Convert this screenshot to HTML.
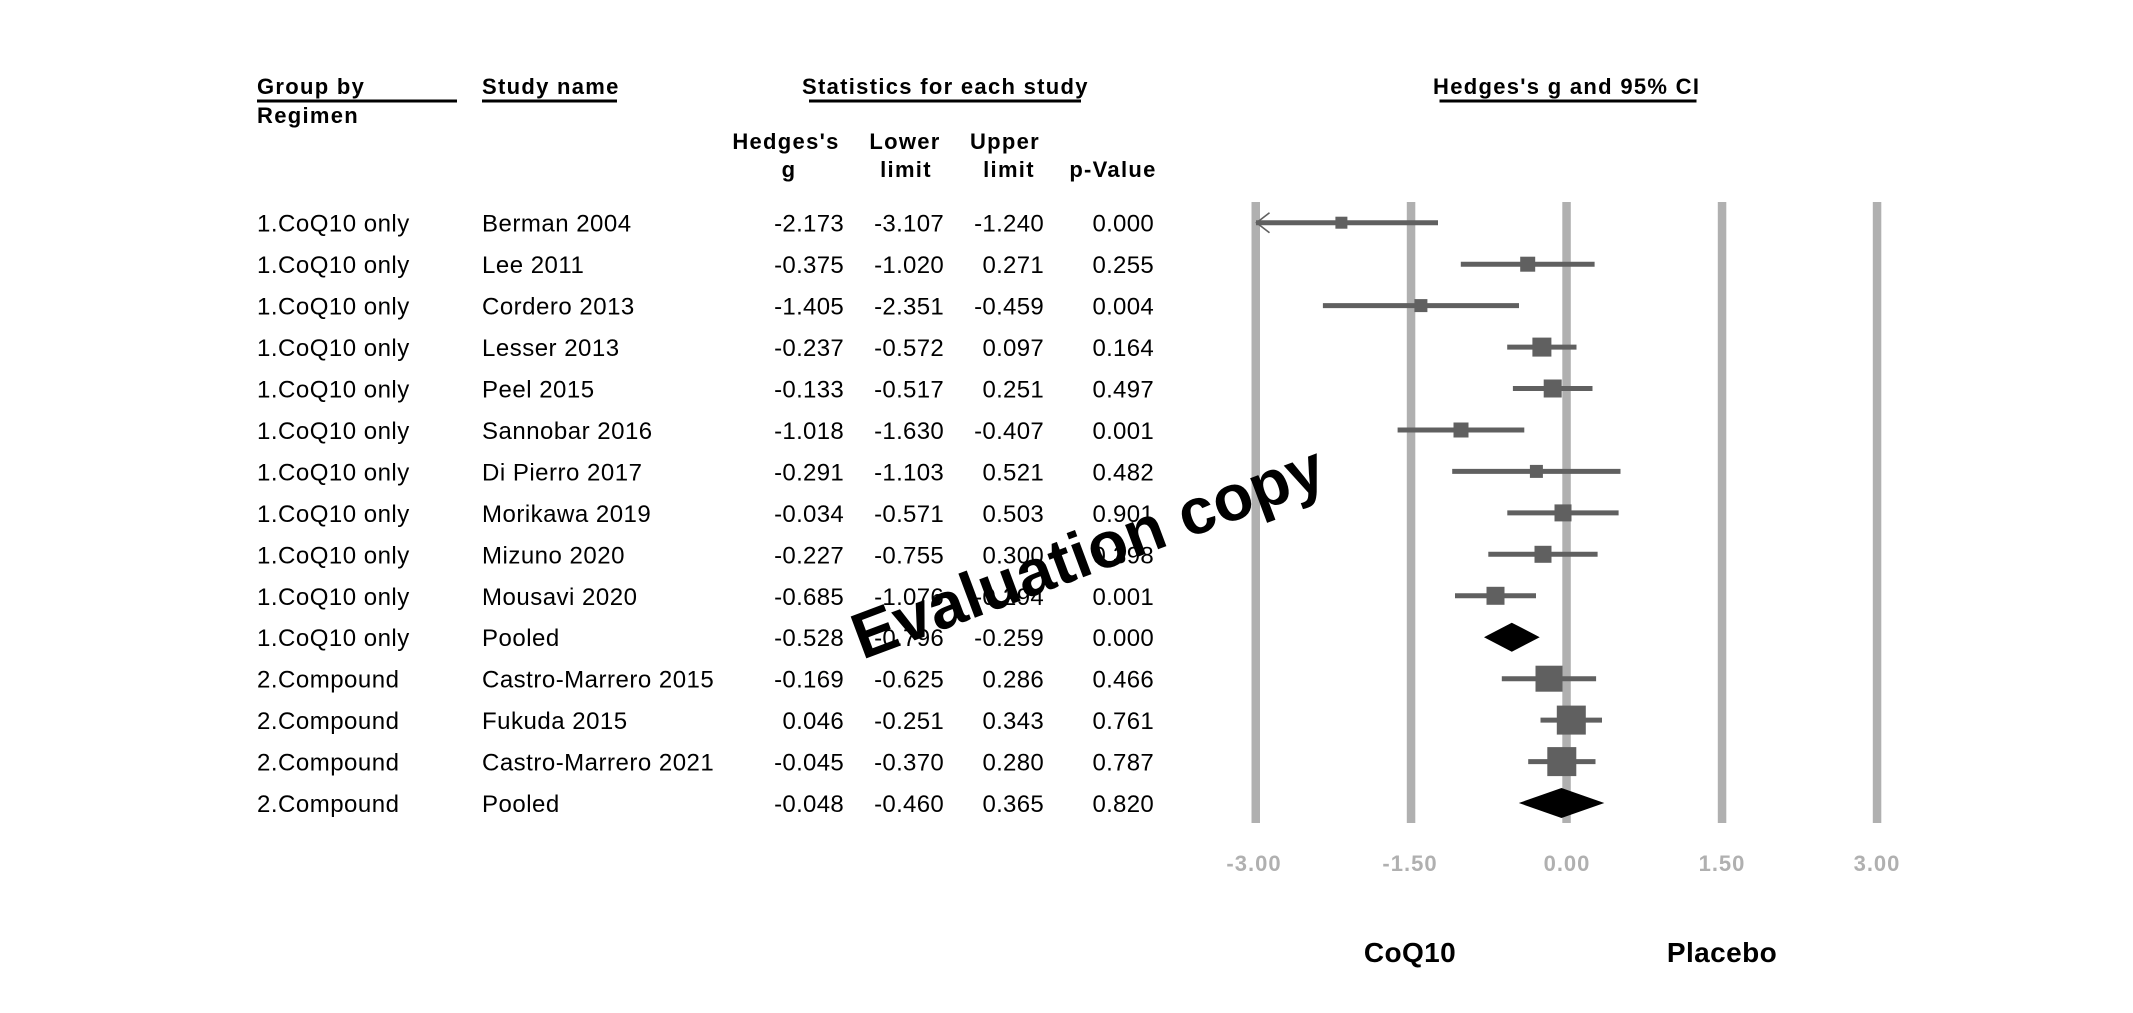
<!DOCTYPE html>
<html>
<head>
<meta charset="utf-8">
<style>
html,body{margin:0;padding:0;background:#fff;}
svg{display:block;}
.h{font-family:"Liberation Sans",Arial,sans-serif;font-weight:bold;font-size:22px;letter-spacing:1.3px;fill:#000;}
.t{font-family:"Liberation Sans",Arial,sans-serif;font-size:24px;letter-spacing:0.5px;fill:#000;}
.n{font-family:"Liberation Sans",Arial,sans-serif;font-size:24px;letter-spacing:0.3px;fill:#000;text-anchor:end;}
.tk{font-family:"Liberation Sans",Arial,sans-serif;font-weight:bold;font-size:22px;letter-spacing:1px;fill:#b0b0b0;text-anchor:middle;}
.lb{font-family:"Liberation Sans",Arial,sans-serif;font-weight:bold;font-size:28px;letter-spacing:0.4px;fill:#000;text-anchor:middle;}
.wm{font-family:"Liberation Sans",Arial,sans-serif;font-weight:bold;font-size:65px;fill:#000;text-anchor:middle;}
</style>
</head>
<body>
<svg width="2133" height="1013" viewBox="0 0 2133 1013" xmlns="http://www.w3.org/2000/svg">
<rect width="2133" height="1013" fill="#fff"/>

<!-- Headers -->
<text class="h" x="257" y="94">Group by</text>
<rect x="257" y="99.5" width="200" height="3" fill="#000"/>
<text class="h" x="257" y="123">Regimen</text>

<text class="h" x="482" y="94">Study name</text>
<rect x="482" y="99.5" width="135" height="3" fill="#000"/>

<text class="h" x="802" y="94">Statistics for each study</text>
<rect x="809" y="99.5" width="272" height="3" fill="#000"/>

<text class="h" x="1433" y="94">Hedges's g and 95% CI</text>
<rect x="1439.5" y="99.5" width="257" height="3" fill="#000"/>

<text class="h" x="786" y="149" text-anchor="middle">Hedges's</text>
<text class="h" x="789" y="177" text-anchor="middle">g</text>
<text class="h" x="905" y="149" text-anchor="middle">Lower</text>
<text class="h" x="906" y="177" text-anchor="middle">limit</text>
<text class="h" x="1005" y="149" text-anchor="middle">Upper</text>
<text class="h" x="1009" y="177" text-anchor="middle">limit</text>
<text class="h" x="1113" y="177" text-anchor="middle">p-Value</text>

<!-- Gridlines -->
<g fill="#b0b0b0">
<rect x="1251.5" y="202" width="8.5" height="621"/>
<rect x="1406.8" y="202" width="8.5" height="621"/>
<rect x="1562.3" y="202" width="8.5" height="621"/>
<rect x="1717.8" y="202" width="8.5" height="621"/>
<rect x="1872.8" y="202" width="8.5" height="621"/>
</g>

<!-- Tick labels -->
<text class="tk" x="1254" y="871">-3.00</text>
<text class="tk" x="1410" y="871">-1.50</text>
<text class="tk" x="1567" y="871">0.00</text>
<text class="tk" x="1722" y="871">1.50</text>
<text class="tk" x="1877" y="871">3.00</text>

<text class="lb" x="1410" y="962">CoQ10</text>
<text class="lb" x="1722" y="962">Placebo</text>

<!-- Rows text -->
<g>
<text class="t" x="257" y="231.7">1.CoQ10 only</text><text class="t" x="482" y="231.7">Berman 2004</text>
<text class="n" x="844" y="231.7">-2.173</text><text class="n" x="944" y="231.7">-3.107</text><text class="n" x="1044" y="231.7">-1.240</text><text class="n" x="1154" y="231.7">0.000</text>

<text class="t" x="257" y="273.2">1.CoQ10 only</text><text class="t" x="482" y="273.2">Lee 2011</text>
<text class="n" x="844" y="273.2">-0.375</text><text class="n" x="944" y="273.2">-1.020</text><text class="n" x="1044" y="273.2">0.271</text><text class="n" x="1154" y="273.2">0.255</text>

<text class="t" x="257" y="314.6">1.CoQ10 only</text><text class="t" x="482" y="314.6">Cordero 2013</text>
<text class="n" x="844" y="314.6">-1.405</text><text class="n" x="944" y="314.6">-2.351</text><text class="n" x="1044" y="314.6">-0.459</text><text class="n" x="1154" y="314.6">0.004</text>

<text class="t" x="257" y="356.1">1.CoQ10 only</text><text class="t" x="482" y="356.1">Lesser 2013</text>
<text class="n" x="844" y="356.1">-0.237</text><text class="n" x="944" y="356.1">-0.572</text><text class="n" x="1044" y="356.1">0.097</text><text class="n" x="1154" y="356.1">0.164</text>

<text class="t" x="257" y="397.5">1.CoQ10 only</text><text class="t" x="482" y="397.5">Peel 2015</text>
<text class="n" x="844" y="397.5">-0.133</text><text class="n" x="944" y="397.5">-0.517</text><text class="n" x="1044" y="397.5">0.251</text><text class="n" x="1154" y="397.5">0.497</text>

<text class="t" x="257" y="439.0">1.CoQ10 only</text><text class="t" x="482" y="439.0">Sannobar 2016</text>
<text class="n" x="844" y="439.0">-1.018</text><text class="n" x="944" y="439.0">-1.630</text><text class="n" x="1044" y="439.0">-0.407</text><text class="n" x="1154" y="439.0">0.001</text>

<text class="t" x="257" y="480.4">1.CoQ10 only</text><text class="t" x="482" y="480.4">Di Pierro 2017</text>
<text class="n" x="844" y="480.4">-0.291</text><text class="n" x="944" y="480.4">-1.103</text><text class="n" x="1044" y="480.4">0.521</text><text class="n" x="1154" y="480.4">0.482</text>

<text class="t" x="257" y="521.9">1.CoQ10 only</text><text class="t" x="482" y="521.9">Morikawa 2019</text>
<text class="n" x="844" y="521.9">-0.034</text><text class="n" x="944" y="521.9">-0.571</text><text class="n" x="1044" y="521.9">0.503</text><text class="n" x="1154" y="521.9">0.901</text>

<text class="t" x="257" y="563.3">1.CoQ10 only</text><text class="t" x="482" y="563.3">Mizuno 2020</text>
<text class="n" x="844" y="563.3">-0.227</text><text class="n" x="944" y="563.3">-0.755</text><text class="n" x="1044" y="563.3">0.300</text><text class="n" x="1154" y="563.3">0.398</text>

<text class="t" x="257" y="604.8">1.CoQ10 only</text><text class="t" x="482" y="604.8">Mousavi 2020</text>
<text class="n" x="844" y="604.8">-0.685</text><text class="n" x="944" y="604.8">-1.076</text><text class="n" x="1044" y="604.8">-0.294</text><text class="n" x="1154" y="604.8">0.001</text>

<text class="t" x="257" y="646.2">1.CoQ10 only</text><text class="t" x="482" y="646.2">Pooled</text>
<text class="n" x="844" y="646.2">-0.528</text><text class="n" x="944" y="646.2">-0.796</text><text class="n" x="1044" y="646.2">-0.259</text><text class="n" x="1154" y="646.2">0.000</text>

<text class="t" x="257" y="687.7">2.Compound</text><text class="t" x="482" y="687.7">Castro-Marrero 2015</text>
<text class="n" x="844" y="687.7">-0.169</text><text class="n" x="944" y="687.7">-0.625</text><text class="n" x="1044" y="687.7">0.286</text><text class="n" x="1154" y="687.7">0.466</text>

<text class="t" x="257" y="729.1">2.Compound</text><text class="t" x="482" y="729.1">Fukuda 2015</text>
<text class="n" x="844" y="729.1">0.046</text><text class="n" x="944" y="729.1">-0.251</text><text class="n" x="1044" y="729.1">0.343</text><text class="n" x="1154" y="729.1">0.761</text>

<text class="t" x="257" y="770.6">2.Compound</text><text class="t" x="482" y="770.6">Castro-Marrero 2021</text>
<text class="n" x="844" y="770.6">-0.045</text><text class="n" x="944" y="770.6">-0.370</text><text class="n" x="1044" y="770.6">0.280</text><text class="n" x="1154" y="770.6">0.787</text>

<text class="t" x="257" y="812.0">2.Compound</text><text class="t" x="482" y="812.0">Pooled</text>
<text class="n" x="844" y="812.0">-0.048</text><text class="n" x="944" y="812.0">-0.460</text><text class="n" x="1044" y="812.0">0.365</text><text class="n" x="1154" y="812.0">0.820</text>
</g>

<!-- CI lines -->
<g stroke="#606060" stroke-width="5" fill="none">
<line x1="1256" y1="222.7" x2="1438.0" y2="222.7"/>
<line x1="1460.8" y1="264.2" x2="1594.6" y2="264.2"/>
<line x1="1322.9" y1="305.6" x2="1519.0" y2="305.6"/>
<line x1="1507.2" y1="347.1" x2="1576.5" y2="347.1"/>
<line x1="1512.9" y1="388.5" x2="1592.5" y2="388.5"/>
<line x1="1397.6" y1="430.0" x2="1524.3" y2="430.0"/>
<line x1="1452.2" y1="471.4" x2="1620.5" y2="471.4"/>
<line x1="1507.3" y1="512.9" x2="1618.6" y2="512.9"/>
<line x1="1488.3" y1="554.3" x2="1597.6" y2="554.3"/>
<line x1="1455.0" y1="595.8" x2="1536.0" y2="595.8"/>
<line x1="1501.8" y1="678.7" x2="1596.1" y2="678.7"/>
<line x1="1540.5" y1="720.1" x2="1602.0" y2="720.1"/>
<line x1="1528.2" y1="761.6" x2="1595.5" y2="761.6"/>
</g>
<!-- arrow -->
<polyline points="1269.5,212.7 1256.5,222.7 1269.5,232.7" fill="none" stroke="#606060" stroke-width="1.6"/>

<!-- squares -->
<g fill="#606060">
<rect x="1335.4" y="216.7" width="12" height="12"/>
<rect x="1520.2" y="256.7" width="15" height="15"/>
<rect x="1414.4" y="299.1" width="13" height="13"/>
<rect x="1532.4" y="337.6" width="19" height="19"/>
<rect x="1543.7" y="379.5" width="18" height="18"/>
<rect x="1453.5" y="422.5" width="15" height="15"/>
<rect x="1529.9" y="464.9" width="13" height="13"/>
<rect x="1554.5" y="504.4" width="17" height="17"/>
<rect x="1534.5" y="545.8" width="17" height="17"/>
<rect x="1486.5" y="586.8" width="18" height="18"/>
<rect x="1535.5" y="665.7" width="27" height="26"/>
<rect x="1556.8" y="705.6" width="29" height="29"/>
<rect x="1547.3" y="747.1" width="29" height="29"/>
</g>

<!-- diamonds -->
<polygon points="1484.0,637.2 1511.8,622.7 1539.7,637.2 1511.8,651.7" fill="#000"/>
<polygon points="1518.8,803.0 1561.5,788.0 1604.3,803.0 1561.5,818.0" fill="#000"/>

<!-- watermark -->
<text class="wm" transform="translate(1088,552) rotate(-20.5)" x="0" y="22">Evaluation copy</text>
</svg>
</body>
</html>
